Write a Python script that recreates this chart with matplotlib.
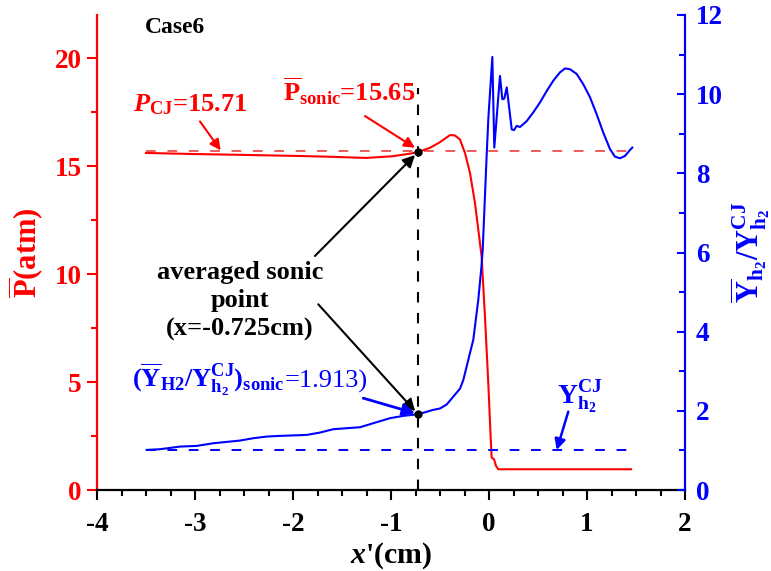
import matplotlib
matplotlib.use("Agg")
import matplotlib.pyplot as plt
from matplotlib.ticker import MultipleLocator

plt.rcParams['font.family'] = ['Liberation Serif', 'DejaVu Serif']
plt.rcParams['font.weight'] = 'bold'
plt.rcParams['axes.unicode_minus'] = False
plt.rcParams['mathtext.fontset'] = 'custom'
plt.rcParams['mathtext.rm'] = 'Liberation Serif:bold'
plt.rcParams['mathtext.it'] = 'Liberation Serif:italic:bold'
plt.rcParams['mathtext.bf'] = 'Liberation Serif:bold'

# ---- data ----
x_P = [-3.5, -3.0, -2.5, -1.93, -1.59, -1.25, -0.98, -0.806, -0.725, -0.602, -0.5,
       -0.398, -0.347, -0.296, -0.245, -0.194, -0.143, -0.109, -0.075, -0.041, -0.007,
       0.017, 0.027, 0.051, 0.071, 0.095, 0.5, 1.0, 1.45]
P_vals = [15.61, 15.56, 15.52, 15.47, 15.43, 15.38, 15.46, 15.58, 15.65, 15.85, 16.11,
          16.44, 16.42, 16.23, 15.61, 14.68, 13.29, 12.05, 10.8, 8.01, 4.92,
          2.43, 1.50, 1.43, 1.12, 0.96, 0.96, 0.96, 0.96]

x_Y = [-3.493, -3.357, -3.153, -2.983, -2.813, -2.541, -2.405, -2.268, -2.133, -1.860,
       -1.724, -1.589, -1.452, -1.316, -1.180, -1.010, -0.874, -0.725, -0.568, -0.5,
       -0.432, -0.364, -0.296, -0.262, -0.16, -0.109, -0.075, -0.064, -0.0235, -0.007,
       0.034, 0.054, 0.112, 0.136, 0.156, 0.181, 0.232, 0.255, 0.283, 0.316,
       0.385, 0.452, 0.520, 0.589, 0.656, 0.724, 0.776, 0.827, 0.895, 0.962,
       1.031, 1.099, 1.166, 1.235, 1.286, 1.337, 1.388, 1.439, 1.462]
Y_vals = [1.013, 1.030, 1.097, 1.114, 1.181, 1.249, 1.308, 1.350, 1.367, 1.392,
          1.451, 1.536, 1.561, 1.586, 1.688, 1.814, 1.873, 1.913, 2.025, 2.06,
          2.16, 2.36, 2.56, 2.78, 3.80, 4.81, 5.7, 6.08, 8.48, 9.37,
          10.94, 8.65, 10.46, 9.87, 9.89, 10.17, 9.11, 9.09, 9.20, 9.17,
          9.32, 9.54, 9.79, 10.08, 10.34, 10.55, 10.65, 10.63, 10.51, 10.25,
          9.92, 9.49, 9.03, 8.61, 8.42, 8.38, 8.44, 8.59, 8.65]

P_CJ = 15.71
P_sonic = 15.65
Y_CJ = 1.0
Y_sonic = 1.913
x_sonic = -0.725
ref_x = [-3.5, 1.45]
vline_top = 18.64

x_ticks = [-4, -3, -2, -1, 0, 1, 2]
P_ticks = [0, 5, 10, 15, 20]
Y_ticks = [0, 2, 4, 6, 8, 10, 12]

RED = '#ff0000'
BLUE = '#0000ff'

fig = plt.figure(figsize=(7.71, 5.71), dpi=100)
ax = fig.add_axes([97/771, 81/571, 588/771, 475/571])
ax2 = ax.twinx()

ax.set_xlim(-4, 2)
ax.set_ylim(0, 22)
ax2.set_ylim(0, 12)

# reference lines
ax.plot(ref_x, [P_CJ, P_CJ], color='#f05a5a', lw=1.4, dashes=(5, 6))
ax2.plot(ref_x, [Y_CJ, Y_CJ], color=BLUE, lw=1.4, dashes=(5, 6))
ax.plot([x_sonic, x_sonic], [0, vline_top], color='k', lw=1.5, dashes=(5, 5))

# curves
ax.plot(x_P, P_vals, color=RED, lw=1.5)
ax2.plot(x_Y, Y_vals, color=BLUE, lw=1.5)

# sonic points
ax2.plot([x_sonic], [P_sonic * 12 / 22], 'o', color='k', ms=5, zorder=10)
ax2.plot([x_sonic], [Y_sonic], 'o', color='k', ms=5, zorder=10)

# spines & ticks
for s in ['top', 'right']:
    ax.spines[s].set_visible(False)
for s in ['top', 'left', 'bottom']:
    ax2.spines[s].set_visible(False)
ax.spines['left'].set_color(RED)
ax.spines['left'].set_linewidth(1.6)
ax.spines['bottom'].set_color('k')
ax.spines['bottom'].set_linewidth(1.6)
ax2.spines['right'].set_color(BLUE)
ax2.spines['right'].set_linewidth(1.6)

ax.set_xticks(x_ticks)
ax.set_yticks(P_ticks)
ax2.set_yticks(Y_ticks)
ax.xaxis.set_minor_locator(MultipleLocator(0.25))
ax.yaxis.set_minor_locator(MultipleLocator(2.5))
ax2.yaxis.set_minor_locator(MultipleLocator(1))

ax.tick_params(axis='x', which='major', direction='out', length=7, width=1.5,
               labelsize=19.5, pad=9, colors='k')
ax.tick_params(axis='x', which='minor', direction='out', length=4, width=1.5)
ax.tick_params(axis='y', which='major', direction='out', length=7, width=1.5,
               labelsize=19.5, pad=4, color=RED, labelcolor=RED)
ax.tick_params(axis='y', which='minor', direction='out', length=4, width=1.5, color=RED)
ax2.tick_params(axis='y', which='major', direction='in', length=6, width=1.5,
                labelsize=19.5, pad=8, color=BLUE, labelcolor=BLUE)
ax2.tick_params(axis='y', which='minor', direction='in', length=4, width=1.5, color=BLUE)
for lab in ax.get_xticklabels() + ax.get_yticklabels() + ax2.get_yticklabels():
    lab.set_fontweight('bold')

# x label placed by its baseline near the bottom edge
fig.text(391/771, 8/571, r"$x$'(cm)", fontsize=21.5, fontweight='bold',
         ha='center', va='baseline')
ax.set_ylabel(r'$\overline{\mathrm{P}}$(atm)', fontsize=22, fontweight='bold',
              color=RED, labelpad=6)
ax2.set_ylabel(r'$\overline{\mathrm{Y}}_{\mathrm{h_2}}/\mathrm{Y}^{\mathrm{CJ}}_{\mathrm{h_2}}$',
               fontsize=22, color=BLUE, labelpad=4)

# annotations
ax.text(-3.204, 21.44, 'Case6', fontsize=17, fontweight='bold', ha='center', va='center')

ax.text(-3.633, 17.53, r'$P_{\mathrm{CJ}}$=15.71', fontsize=19, fontweight='bold',
        color=RED, ha='left', va='baseline')
ax.annotate('', xy=(-2.738, 15.73), xytext=(-2.949, 17.07),
            arrowprops=dict(arrowstyle='-|>', color=RED, lw=1.5, mutation_scale=16,
                            shrinkA=0, shrinkB=0))

ax.text(-2.102, 18.0, r'$\overline{\mathrm{P}}_{\mathrm{sonic}}$=15.65', fontsize=19,
        fontweight='bold', color=RED, ha='left', va='baseline')
ax.annotate('', xy=(-0.755, 15.85), xytext=(-1.265, 17.32),
            arrowprops=dict(arrowstyle='-|>', color=RED, lw=1.5, mutation_scale=16,
                            shrinkA=0, shrinkB=0))

ax.text(-2.541, 8.75, 'averaged sonic\npoint\n(x=-0.725cm)', fontsize=19,
        fontweight='bold', ha='center', va='center', linespacing=1.3)
ax2.annotate('', xy=(x_sonic, P_sonic * 12 / 22), xytext=(-1.776, 10.84 * 12 / 22),
             arrowprops=dict(arrowstyle='-|>', color='k', lw=1.5, mutation_scale=18,
                             shrinkA=0, shrinkB=3))
ax2.annotate('', xy=(x_sonic, Y_sonic), xytext=(-1.742, 8.60 * 12 / 22),
             arrowprops=dict(arrowstyle='-|>', color='k', lw=1.5, mutation_scale=18,
                             shrinkA=0, shrinkB=3))

t_blue = ax2.text(-3.646, 2.58,
                  r'$(\overline{\mathrm{Y}}_{\mathrm{H2}}/\mathrm{Y}^{\mathrm{CJ}}_{\mathrm{h_2}})_{\mathrm{sonic}}$',
                  fontsize=19, color=BLUE, ha='left', va='baseline')
fig.canvas.draw()
bb = t_blue.get_window_extent(fig.canvas.get_renderer())
x_right = ax2.transData.inverted().transform((bb.x1, bb.y0))[0]
ax2.text(x_right, 2.58, '=1.913)', fontsize=19, fontweight='normal', color=BLUE,
         ha='left', va='baseline')
ax2.annotate('', xy=(-0.755, 1.94), xytext=(-1.283, 2.32),
             arrowprops=dict(arrowstyle='-|>', color=BLUE, lw=2, mutation_scale=18,
                             shrinkA=0, shrinkB=0))

ax2.text(0.691, 2.19, r'$\mathrm{Y}^{\mathrm{CJ}}_{\mathrm{h_2}}$', fontsize=20,
         color=BLUE, ha='left', va='baseline')
ax2.annotate('', xy=(0.691, 1.01), xytext=(0.809, 1.98),
             arrowprops=dict(arrowstyle='-|>', color=BLUE, lw=1.8, mutation_scale=16,
                             shrinkA=0, shrinkB=0))

fig.savefig('out.png', dpi=100)
